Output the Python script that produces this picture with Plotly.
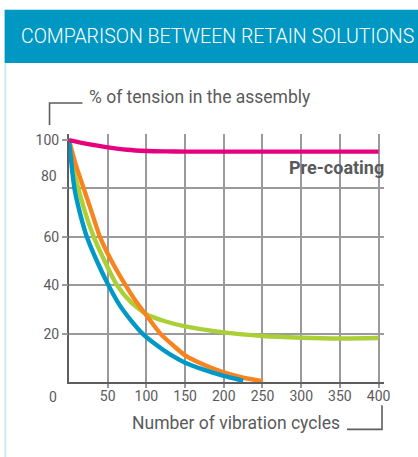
import plotly.graph_objects as go

# ---- data ----
cycles_pre = [0, 25, 50, 75, 100, 125, 150, 200, 300, 400]
tension_pre = [100, 98.3, 97, 96, 95.5, 95.3, 95.2, 95.2, 95.2, 95.2]

cycles_blue = [0, 7, 14, 23, 36, 51, 65, 80, 95, 110, 130, 150, 175, 200, 225]
tension_blue = [100, 80, 70, 60, 50, 40, 32, 25.5, 20, 16, 11.5, 8, 5, 2.5, 0.5]

cycles_green = [0, 5, 12, 21, 32, 46, 62, 80, 100, 125, 150, 200, 250, 300, 350, 400]
tension_green = [100, 89, 80, 70, 60, 50, 40, 33, 28, 25, 23, 20.5, 19, 18.3, 18, 18.2]

cycles_orange = [0, 9, 19, 29, 40, 55, 73, 85, 100, 118, 135, 150, 175, 200, 225, 250]
tension_orange = [100, 89.5, 80, 70.5, 60, 50, 40, 34, 27.5, 20, 15, 11, 7, 4, 1.8, 0.3]

x_ticks = [50, 100, 150, 200, 250, 300, 350, 400]
y_ticks = [20, 40, 60, 80, 100]
y_ticklabels = ["20", "40", "60", "", "100"]

title_text = "COMPARISON BETWEEN RETAIN SOLUTIONS"
y_title = "% of tension in the assembly"
x_title = "Number of vibration cycles"
pre_label = "Pre-coating"

# ---- geometry (pixels) ----
W, H = 418, 457
PL, PR, PT, PB = 68.5, 384, 134, 381.7


def px(x):
    return (x - PL) / (PR - PL)


def py(y):
    return (PB - y) / (PB - PT)


GRID = "#9a9a9e"
AXIS = "#5e5e60"
TXT = "#5a5a5c"
FONT = "Roboto"

fig = go.Figure()

line_w = 4.4
sm = 0.6
fig.add_trace(go.Scatter(x=cycles_pre, y=tension_pre, mode="lines",
                         line=dict(color="#e6007e", width=line_w, shape="spline", smoothing=sm),
                         yaxis="y2", hoverinfo="skip"))
fig.add_trace(go.Scatter(x=cycles_green, y=tension_green, mode="lines",
                         line=dict(color="#aacf37", width=line_w, shape="spline", smoothing=sm),
                         hoverinfo="skip"))
fig.add_trace(go.Scatter(x=cycles_orange, y=tension_orange, mode="lines",
                         line=dict(color="#f7841f", width=line_w, shape="spline", smoothing=sm),
                         hoverinfo="skip"))
fig.add_trace(go.Scatter(x=cycles_blue, y=tension_blue, mode="lines",
                         line=dict(color="#0098c6", width=line_w, shape="spline", smoothing=sm),
                         hoverinfo="skip"))

shapes = [
    # header band
    dict(type="rect", xref="paper", yref="paper", x0=px(4), x1=px(420), y0=py(63), y1=py(10),
         fillcolor="#0097c3", line=dict(width=0), layer="below"),
    # left light border
    dict(type="line", xref="paper", yref="paper", x0=px(4.7), x1=px(4.7), y0=py(63), y1=py(460),
         line=dict(color="#c4e8f3", width=1.6)),
    # y title bracket
    dict(type="path", xref="paper", yref="paper",
         path=f"M {px(82)} {py(103)} L {px(49)} {py(103)} L {px(49)} {py(125)}",
         line=dict(color=AXIS, width=1.6)),
    # x title bracket
    dict(type="path", xref="paper", yref="paper",
         path=f"M {px(347)} {py(429)} L {px(382)} {py(429)} L {px(382)} {py(405)}",
         line=dict(color=AXIS, width=1.6)),
]

annotations = [
    dict(text=title_text, xref="paper", yref="paper", x=px(18), y=py(37), xanchor="left", yanchor="middle",
         showarrow=False, font=dict(family=FONT, size=19.5, color="white", weight=300)),
    dict(text=y_title, xref="paper", yref="paper", x=px(87), y=py(97), xanchor="left", yanchor="middle",
         showarrow=False, font=dict(family=FONT, size=17.5, color=TXT)),
    dict(text=x_title, xref="paper", yref="paper", x=px(342), y=py(422.5), xanchor="right", yanchor="middle",
         showarrow=False, font=dict(family=FONT, size=17.5, color=TXT)),
    dict(text="<b>" + pre_label + "</b>", xref="paper", yref="paper", x=px(386), y=py(167), xanchor="right",
         yanchor="middle", showarrow=False, font=dict(family=FONT, size=18, color=TXT)),
    dict(text="80", xref="paper", yref="y2", x=0, y=80, xanchor="right", yanchor="middle", xshift=-10, yshift=12,
         showarrow=False, font=dict(family=FONT, size=14, color=TXT)),
    dict(text="0", xref="paper", yref="y2", x=0, y=0, xanchor="center", yanchor="middle", xshift=-16,
         yshift=-15, showarrow=False, font=dict(family=FONT, size=14, color=TXT)),
]

fig.update_layout(
    width=W, height=H,
    margin=dict(l=PL, r=W - PR, t=PT, b=H - PB, pad=0),
    paper_bgcolor="white", plot_bgcolor="white",
    showlegend=False,
    shapes=shapes, annotations=annotations,
    xaxis=dict(range=[0, 407], tickvals=x_ticks, showgrid=True, gridcolor=GRID, gridwidth=2,
               ticks="outside", ticklen=4, tickwidth=2, tickcolor=GRID, ticklabelstandoff=-4,
               showline=True, linecolor=AXIS, linewidth=2, zeroline=False,
               tickfont=dict(family=FONT, size=14, color=TXT), fixedrange=True),
    yaxis=dict(range=[0, 102.5], tickvals=y_ticks[:-1], showgrid=True, gridcolor=GRID, gridwidth=2,
               ticks="", showticklabels=False,
               showline=True, linecolor=AXIS, linewidth=2, zeroline=False, fixedrange=True),
    yaxis2=dict(range=[0, 102.5], overlaying="y", side="left", tickvals=y_ticks, ticktext=y_ticklabels,
                showgrid=False, ticks="outside", ticklen=6, tickwidth=2, tickcolor=GRID,
                showline=False, zeroline=False,
                tickfont=dict(family=FONT, size=14, color=TXT), fixedrange=True),
)

fig.write_html("out.html", config={"displayModeBar": False},
               post_script="document.body.style.margin='0';document.body.style.overflow='hidden';")
